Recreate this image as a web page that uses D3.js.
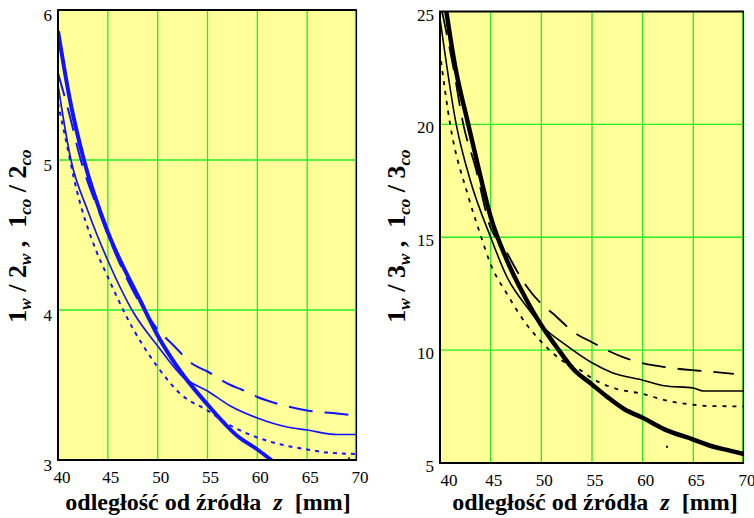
<!doctype html>
<html lang="pl">
<head>
  <meta charset="utf-8">
  <title>Chart</title>
  <script src="https://d3js.org/d3.v7.min.js"></script>
  <style>
    body { margin: 0; background: #fff; }
  </style>
</head>
<body>
    <div id="vis"></div>
    <script>
        // odległość z [mm] -> wartość
        const zTicks = [40, 45, 50, 55, 60, 65, 70];
        const leftYTicks = [3, 4, 5, 6];
        const rightYTicks = [5, 10, 15, 20, 25];

        // lewy wykres: 1w/2w, 1co/2co
        const leftThick = [[40, 5.86], [41.2, 5.4], [42.6, 5.0], [45, 4.52], [48.2, 4.07], [50, 3.83],
            [52.3, 3.59], [55, 3.37], [58, 3.16], [60, 3.07], [61.4, 3.0], [62, 2.97]];
        const leftThin = [[40, 5.5], [41.3, 5.0], [43, 4.66], [45, 4.33], [47.6, 3.98], [50, 3.76],
            [52.6, 3.55], [55, 3.46], [57.3, 3.36], [60, 3.28], [63, 3.22], [65, 3.2], [68, 3.17], [70, 3.17]];
        const leftDashed = [[40, 5.58], [41.2, 5.29], [42.2, 5.02], [44.2, 4.64], [46.2, 4.31], [48, 4.07],
            [50, 3.87], [51.5, 3.77], [53.5, 3.64], [55, 3.59], [57.3, 3.5], [58.4, 3.47], [60, 3.42],
            [62.3, 3.37], [65, 3.33], [68, 3.31], [69.3, 3.3]];
        const leftDotted = [[40, 5.38], [40.8, 5.13], [41.8, 4.82], [43.8, 4.4], [45, 4.22], [47, 3.94],
            [50, 3.62], [52.3, 3.44], [55, 3.33], [57.3, 3.23], [60, 3.15], [62.6, 3.1], [65, 3.07],
            [67, 3.05], [70, 3.04]];
        const leftDots = [[69.2, 3.01]];

        // prawy wykres: 1w/3w, 1co/3co
        const rightThick = [[40.2, 26.3], [41.5, 22.56], [42.8, 19.98], [44, 17.68], [45, 15.9], [46.6, 13.99],
            [48.2, 12.51], [50, 11.1], [51.5, 10.14], [53.1, 9.19], [55, 8.48], [56.5, 7.93], [58.2, 7.38],
            [60, 7.0], [62.1, 6.5], [65, 6.04], [67, 5.72], [68.4, 5.57], [70, 5.4]];
        const rightThin = [[40, 24.7], [41.6, 20], [43, 17.5], [45, 15.0], [46.6, 13.25], [48.6, 11.9],
            [50, 11.1], [52.5, 10.2], [55, 9.44], [57, 9.0], [60, 8.67], [62.1, 8.42], [65, 8.32],
            [66, 8.19], [70, 8.19]];
        const rightDashed = [[40.2, 25], [41.3, 22.56], [42.3, 20], [43.5, 18.1], [45, 15.4], [46.3, 14.55],
            [47.6, 13.5], [48.5, 12.85], [50, 12.05], [51.2, 11.6], [53.2, 10.8], [55, 10.35], [56.7, 9.95],
            [58, 9.7], [60.2, 9.4], [62, 9.26], [64.9, 9.11], [66, 9.07], [69, 8.95]];
        const rightDotted = [[40.1, 22.8], [41, 20], [42.8, 16.8], [44, 15.1], [45, 13.8], [46.6, 12.5],
            [48.6, 11.1], [50, 10.37], [52, 9.55], [53.9, 9.1], [55, 8.75], [57.3, 8.3], [60, 8.06],
            [62.3, 7.77], [65, 7.58], [67, 7.52], [70, 7.51]];
        const rightDots = [[62.4, 5.72]];

        const W = 754, H = 518;
        const FONT = "'Liberation Serif', 'Times New Roman', 'DejaVu Serif', serif";

        const svg = d3.select('#vis')
            .append('svg')
                .attr('width', W)
                .attr('height', H)
                .attr('font-family', FONT);

        function panel(cfg) {
            const x = d3.scaleLinear().domain([40, 70]).range([cfg.x0, cfg.x1]);
            const y = d3.scaleLinear().domain(cfg.yDomain).range([cfg.y1, cfg.y0]);
            const g = svg.append('g');

            g.append('rect')
                .attr('x', cfg.x0).attr('y', cfg.y0)
                .attr('width', cfg.x1 - cfg.x0).attr('height', cfg.y1 - cfg.y0)
                .attr('fill', '#ffff99');

            // siatka
            g.selectAll('.vgrid')
                .data(zTicks.slice(1))
                .enter().append('line')
                    .attr('x1', d => x(d) - (d === 70 ? 1.5 : 0)).attr('x2', d => x(d) - (d === 70 ? 1.5 : 0))
                    .attr('y1', cfg.y0).attr('y2', cfg.y1)
                    .attr('stroke', '#22ee22').attr('stroke-width', 1.3);
            g.selectAll('.hgrid')
                .data(cfg.yTicks.slice(1, -1))
                .enter().append('line')
                    .attr('x1', cfg.x0).attr('x2', cfg.x1)
                    .attr('y1', d => y(d)).attr('y2', d => y(d))
                    .attr('stroke', '#22ee22').attr('stroke-width', 1.3);

            const clipId = 'clip' + cfg.id;
            svg.append('clipPath').attr('id', clipId)
                .append('rect')
                    .attr('x', cfg.x0).attr('y', cfg.y0)
                    .attr('width', cfg.x1 - cfg.x0).attr('height', cfg.y1 - cfg.y0);

            const line = d3.line()
                .x(d => x(d[0]))
                .y(d => y(d[1]))
                .curve(d3.curveMonotoneX);

            const curves = g.append('g').attr('clip-path', `url(#${clipId})`);
            cfg.series.forEach(s => {
                curves.append('path')
                    .attr('d', line(s.data))
                    .attr('fill', 'none')
                    .attr('stroke', cfg.color)
                    .attr('stroke-width', s.width)
                    .attr('stroke-dasharray', s.dash || null)
                    .attr('stroke-linejoin', 'round');
            });
            curves.selectAll('.dot')
                .data(cfg.dots)
                .enter().append('rect')
                    .attr('x', d => x(d[0]) - 1).attr('y', d => y(d[1]) - 1)
                    .attr('width', 2).attr('height', 2)
                    .attr('fill', '#000');

            // ramka
            g.append('line')
                .attr('x1', cfg.x1 - 0.5).attr('x2', cfg.x1 - 0.5)
                .attr('y1', cfg.y0).attr('y2', cfg.y1)
                .attr('stroke', '#000').attr('stroke-width', 1.2);
            g.append('path')
                .attr('d', `M${cfg.x1},${cfg.y0}H${cfg.x0}V${cfg.y1}H${cfg.x1}`)
                .attr('fill', 'none')
                .attr('stroke', '#000').attr('stroke-width', 2);

            // opisy osi
            g.selectAll('.xt')
                .data(zTicks)
                .enter().append('text')
                    .attr('x', (d, i) => x(d) + 3 + (i === 0 ? cfg.firstDx : 0))
                    .attr('y', cfg.y1 + 23)
                    .attr('text-anchor', 'middle')
                    .attr('font-size', 17)
                    .text(d => d);
            g.selectAll('.yt')
                .data(cfg.yTicks)
                .enter().append('text')
                    .attr('x', cfg.x0 - 6)
                    .attr('y', d => y(d) + cfg.yDy)
                    .attr('text-anchor', 'end')
                    .attr('font-size', 17)
                    .text(d => d);

            const xt = g.append('text')
                .attr('x', cfg.xTitleX)
                .attr('y', 510)
                .attr('text-anchor', 'middle')
                .attr('font-size', 24)
                .attr('font-weight', 'bold')
                .style('white-space', 'pre');
            xt.append('tspan').text('odległość od źródła  ');
            xt.append('tspan').attr('font-style', 'italic').text('z');
            xt.append('tspan').text('  [mm]');

            const yt = g.append('text')
                .attr('transform', `translate(${cfg.yTitleX},236) rotate(-90)`)
                .attr('text-anchor', 'middle')
                .attr('font-size', 26)
                .attr('font-weight', 'bold')
                .style('white-space', 'pre');
            cfg.yTitle.forEach(p => {
                if (p.sub) {
                    yt.append('tspan')
                        .attr('dy', 5)
                        .attr('font-size', 17)
                        .attr('font-style', 'italic')
                        .text(p.sub);
                } else {
                    yt.append('tspan')
                        .attr('dy', p.back ? -5 : 0)
                        .text(p.t);
                }
            });
        }

        panel({
            id: 'L',
            x0: 58, x1: 357, y0: 10, y1: 460,
            yDomain: [3, 6],
            yTicks: leftYTicks,
            yDy: 11,
            firstDx: 1,
            color: '#1212ff',
            xTitleX: 208,
            yTitleX: 26,
            yTitle: [{t: '1'}, {sub: 'w'}, {t: ' / 2', back: true}, {sub: 'w'}, {t: ' ,  1', back: true},
                {sub: 'co'}, {t: ' / 2', back: true}, {sub: 'co'}],
            series: [
                {data: leftThin, width: 1.7},
                {data: leftDotted, width: 2, dash: '4,5'},
                {data: leftDashed, width: 2, dash: '24,12'},
                {data: leftThick, width: 4},
            ],
            dots: leftDots,
        });

        panel({
            id: 'R',
            x0: 440, x1: 744, y0: 11.5, y1: 463,
            yDomain: [5, 25],
            yTicks: rightYTicks,
            yDy: 9,
            firstDx: 6,
            color: '#000',
            xTitleX: 595,
            yTitleX: 405,
            yTitle: [{t: '1'}, {sub: 'w'}, {t: ' / 3', back: true}, {sub: 'w'}, {t: ' ,  1', back: true},
                {sub: 'co'}, {t: ' / 3', back: true}, {sub: 'co'}],
            series: [
                {data: rightThin, width: 1.6},
                {data: rightDotted, width: 1.8, dash: '4,6'},
                {data: rightDashed, width: 1.8, dash: '24,12'},
                {data: rightThick, width: 4.5},
            ],
            dots: rightDots,
        });
    </script>
</body>
</html>
